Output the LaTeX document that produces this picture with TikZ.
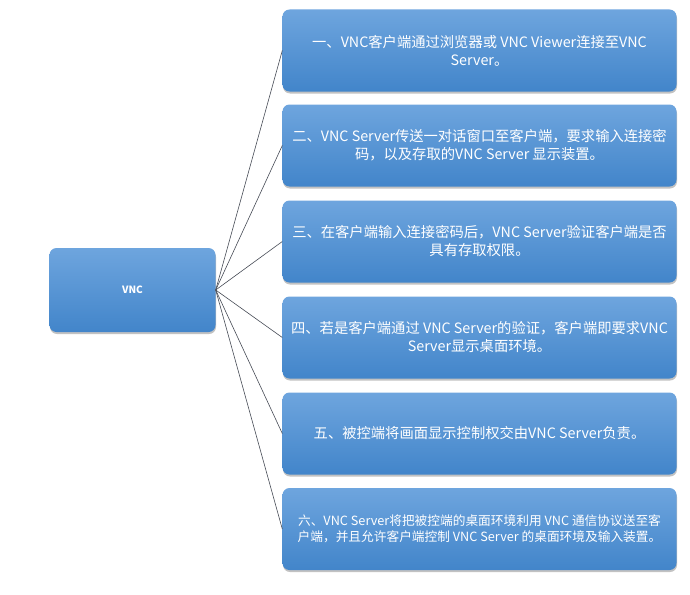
\documentclass[tikz,border=0pt]{standalone}
\usepackage{fontspec}
\setmainfont{Noto Sans CJK SC}
\usepackage{tikz}
\usetikzlibrary{shadows}
\definecolor{boxtop}{RGB}{110,165,222}
\definecolor{boxbot}{RGB}{66,133,202}
\definecolor{linkgray}{RGB}{70,75,85}

\begin{document}
\begin{tikzpicture}[x=1pt,y=-1pt,
  box/.style={rounded corners=7pt,top color=boxtop,bottom color=boxbot,
    draw=none,text=white,align=center,inner sep=0pt,
    drop shadow={shadow xshift=0.5pt,shadow yshift=-2pt,opacity=0.4,fill=black!60}},
  stepbox/.style={box,minimum width=394pt,minimum height=82pt,
    font=\fontsize{14.3}{18}\selectfont},
  link/.style={draw=linkgray,line width=0.6pt}]
  \useasboundingbox (0,0) rectangle (690,594);
  \node[box,minimum width=166pt,minimum height=84pt,font=\fontsize{10}{12}\selectfont\bfseries]
    (vnc) at (132.5,290) {VNC};
  \node[stepbox] (s1) at (479.5,50.5) {一、VNC客户端通过浏览器或 VNC Viewer连接至VNC\\Server。};
  \node[stepbox] (s2) at (479.5,145.5) {二、VNC Server传送一对话窗口至客户端，要求输入连接密\\码，以及存取的VNC Server 显示装置。};
  \node[stepbox] (s3) at (479.5,241.5) {三、在客户端输入连接密码后，VNC Server验证客户端是否\\具有存取权限。};
  \node[stepbox] (s4) at (479.5,337.5) {四、若是客户端通过 VNC Server的验证，客户端即要求VNC\\Server显示桌面环境。};
  \node[stepbox] (s5) at (479.5,433.5) {五、被控端将画面显示控制权交由VNC Server负责。};
  \node[stepbox,font=\fontsize{12.7}{16}\selectfont] (s6) at (479.5,529)
    {六、VNC Server将把被控端的桌面环境利用 VNC 通信协议送至客\\户端，并且允许客户端控制 VNC Server 的桌面环境及输入装置。};
  \foreach \i in {1,...,6}
    \draw[link] (vnc.east) -- (s\i.west);
\end{tikzpicture}
\end{document}
